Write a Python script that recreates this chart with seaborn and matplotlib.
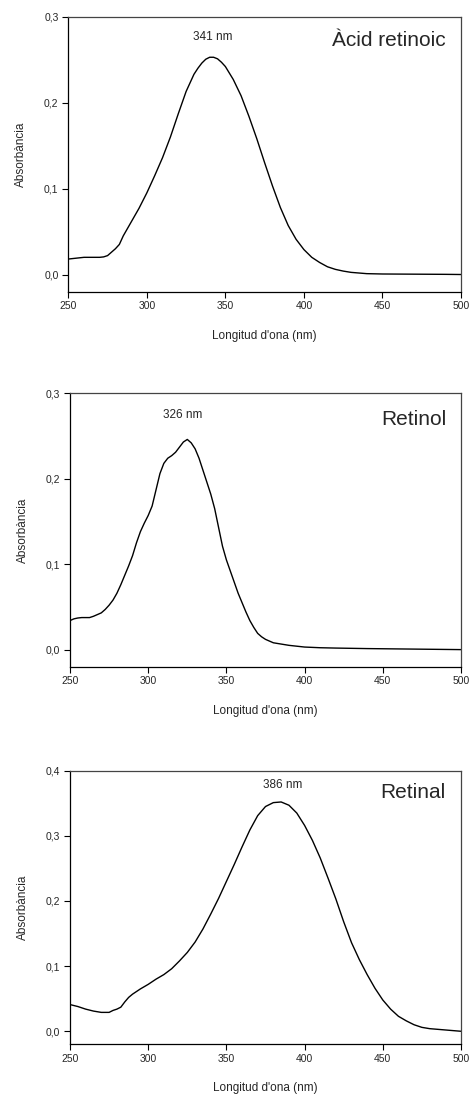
import numpy as np
import pandas as pd
import matplotlib
matplotlib.use("Agg")
import matplotlib.pyplot as plt
import seaborn as sns

# ---------------- data ----------------
acid_wl = [250, 255, 260, 265, 270, 272.5, 275, 277.5, 280, 282.5, 285, 290, 295, 300,
           305, 310, 315, 320, 325, 330, 332.5, 335, 337.5, 340, 342.5, 345, 347.5, 350,
           355, 360, 365, 370, 375, 380, 385, 390, 395, 400, 405, 410, 415, 420, 425,
           430, 440, 450, 460, 470, 480, 490, 500]
acid_retinoic = [0.018, 0.019, 0.020, 0.020, 0.020, 0.0205, 0.022, 0.026, 0.030, 0.035,
                 0.045, 0.061, 0.077, 0.095, 0.115, 0.136, 0.160, 0.187, 0.213, 0.233,
                 0.240, 0.246, 0.2505, 0.2528, 0.2528, 0.251, 0.247, 0.242, 0.227, 0.208,
                 0.184, 0.158, 0.130, 0.103, 0.078, 0.057, 0.041, 0.029, 0.020, 0.014,
                 0.009, 0.006, 0.004, 0.0025, 0.001, 0.0006, 0.0005, 0.0004, 0.0003, 0.0002,
                 0.0]

retinol_wl = [250, 252.5, 255, 257.5, 260, 262.5, 265, 267.5, 270, 272.5, 275, 277.5, 280,
              282.5, 285, 287.5, 290, 292.5, 295, 297.5, 300, 302.5, 305, 307.5, 310, 312.5,
              315, 317.5, 320, 322.5, 325, 327.5, 330, 332.5, 335, 337.5, 340, 342.5, 345,
              347.5, 350, 352.5, 355, 357.5, 360, 362.5, 365, 367.5, 370, 372.5, 375, 377.5,
              380, 385, 390, 395, 400, 410, 420, 430, 440, 450, 460, 470, 480, 490, 500]
retinol = [0.034, 0.036, 0.037, 0.0375, 0.0375, 0.0375, 0.039, 0.041, 0.043, 0.047, 0.052,
           0.058, 0.066, 0.076, 0.087, 0.098, 0.110, 0.125, 0.138, 0.148, 0.157, 0.168,
           0.187, 0.206, 0.218, 0.224, 0.227, 0.231, 0.237, 0.243, 0.246, 0.242, 0.235,
           0.224, 0.210, 0.196, 0.182, 0.165, 0.143, 0.121, 0.105, 0.092, 0.079, 0.066,
           0.055, 0.044, 0.034, 0.026, 0.019, 0.015, 0.012, 0.010, 0.008, 0.0065, 0.005,
           0.004, 0.003, 0.0022, 0.0018, 0.0015, 0.0012, 0.001, 0.0008, 0.0006, 0.0004,
           0.0002, 0.0]

retinal_wl = [250, 255, 260, 265, 270, 275, 277.5, 280, 282.5, 285, 287.5, 290, 295, 300,
              305, 310, 315, 320, 325, 330, 335, 340, 345, 350, 355, 360, 365, 370, 375,
              380, 385, 390, 395, 400, 405, 410, 415, 420, 425, 430, 435, 440, 445, 450,
              455, 460, 465, 470, 475, 480, 485, 490, 495, 500]
retinal = [0.041, 0.038, 0.034, 0.031, 0.029, 0.029, 0.032, 0.034, 0.037, 0.045, 0.052,
           0.057, 0.065, 0.072, 0.080, 0.087, 0.096, 0.108, 0.121, 0.137, 0.157, 0.180,
           0.204, 0.230, 0.256, 0.283, 0.309, 0.331, 0.345, 0.351, 0.352, 0.347, 0.335,
           0.316, 0.293, 0.266, 0.235, 0.203, 0.168, 0.136, 0.110, 0.087, 0.066, 0.048,
           0.034, 0.023, 0.016, 0.010, 0.006, 0.004, 0.003, 0.002, 0.001, 0.000]

names = ["Àcid retinoic", "Retinol", "Retinal"]
peak_labels = ["341 nm", "326 nm", "386 nm"]
peak_label_pos = [(341.7, 0.276), (321.8, 0.275), (385.8, 0.3785)]
name_pos = [(490.0, 0.272), (490.8, 0.2695), (490.4, 0.366)]
x_ticks = [250, 300, 350, 400, 450, 500]
y_ticks_list = [[0.0, 0.1, 0.2, 0.3], [0.0, 0.1, 0.2, 0.3], [0.0, 0.1, 0.2, 0.3, 0.4]]
y_tops = [0.3, 0.3, 0.4]
xlabel = "Longitud d'ona (nm)"
ylabel = "Absorbància"

series = [(acid_wl, acid_retinoic), (retinol_wl, retinol), (retinal_wl, retinal)]

# ---------------- style ----------------
sns.set_style("ticks")
plt.rcParams['font.family'] = ['Liberation Sans', 'DejaVu Sans']

W, H = 471, 1097
fig = plt.figure(figsize=(W / 100, H / 100), dpi=100)

# axes rectangles in pixels: (left, top, right, bottom)
rects = [(68.3, 16.7, 461.0, 291.7),
         (70.0, 393.3, 461.0, 666.7),
         (70.0, 770.7, 461.0, 1044.3)]

for i in range(3):
    l, t, r, b = rects[i]
    ax = fig.add_axes([l / W, 1 - b / H, (r - l) / W, (b - t) / H])
    xs, ys = series[i]
    df = pd.DataFrame({"x": xs, "y": ys})
    sns.lineplot(data=df, x="x", y="y", ax=ax, color="black", linewidth=1.0)
    ax.set_xlim(250, 500)
    ax.set_ylim(-0.02, y_tops[i])
    ax.set_xticks(x_ticks)
    ax.set_xticklabels([str(v) for v in x_ticks], fontsize=7.5)
    yt = y_ticks_list[i]
    ax.set_yticks(yt)
    ax.set_yticklabels([f"{v:.1f}".replace(".", ",") for v in yt], fontsize=7.5)
    ax.tick_params(direction="out", length=4, width=0.8, color="black", pad=3)
    for s in ax.spines.values():
        s.set_visible(True)
        s.set_linewidth(0.9)
        s.set_color("black")
    ax.spines["top"].set_color("#444444")
    ax.spines["right"].set_color("#444444")
    ax.set_xlabel(xlabel, fontsize=8.5)
    ax.set_ylabel(ylabel, fontsize=8.5)
    ax.xaxis.set_label_coords(0.5, -0.161)
    ax.yaxis.set_label_coords(-0.121, 0.5)
    ax.xaxis.label.set_va("center")
    ax.yaxis.label.set_va("center")
    px, py = peak_label_pos[i]
    ax.text(px, py, peak_labels[i], ha="center", va="center", fontsize=8.5)
    nx, ny = name_pos[i]
    ax.text(nx, ny, names[i], ha="right", va="center", fontsize=15)

fig.savefig("out.png", dpi=100)
